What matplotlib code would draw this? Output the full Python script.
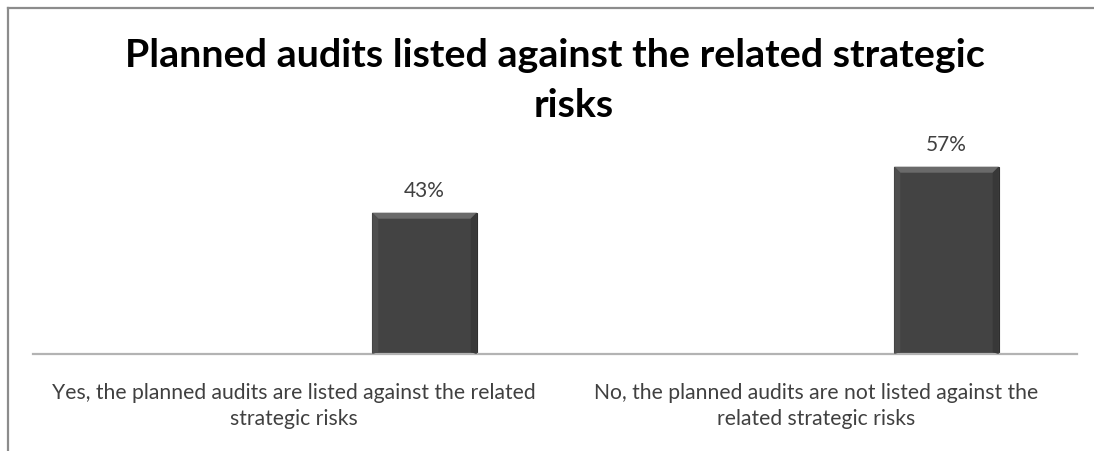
import matplotlib
matplotlib.use("Agg")
import matplotlib.pyplot as plt
from matplotlib.patches import Polygon
from matplotlib.lines import Line2D

# Survey result data
categories = [
    "Yes, the planned audits are listed against the related\nstrategic risks",
    "No, the planned audits are not listed against the\nrelated strategic risks",
]
shares = [0.43, 0.57]
value_labels = ["43%", "57%"]
title_lines = ["Planned audits listed against the related strategic", "risks"]

W, H, DPI = 1094, 452, 100
fig = plt.figure(figsize=(W / DPI, H / DPI), dpi=DPI)
fig.patch.set_facecolor("white")

# outer chart frame (top and left edges visible)
fig.add_artist(Line2D([8 / W, 1.0], [1 - 9 / H, 1 - 9 / H], transform=fig.transFigure,
                      color="#8c8c8c", lw=1.6))
fig.add_artist(Line2D([8 / W, 8 / W], [0.0, 1 - 9 / H], transform=fig.transFigure,
                      color="#8c8c8c", lw=1.6))

ax_left, ax_right, ax_bottom, ax_top = 33, 1077, 355, 125
ax = fig.add_axes([ax_left / W, (H - ax_bottom) / H,
                   (ax_right - ax_left) / W, (ax_bottom - ax_top) / H])

x = list(range(len(categories)))
bar_w = 0.2
offset = 0.25
bar_x = [xi + offset for xi in x]
bars = ax.bar(bar_x, shares, width=bar_w, color="#434343", edgecolor="#2e2e2e",
              linewidth=0.8, zorder=2)

ax.set_xlim(-0.5, len(categories) - 0.5)
ax.set_ylim(0, 0.70)

# bevel highlight along the top and sides of each bar
px_x = (ax_right - ax_left) / len(categories)
px_y = (ax_bottom - ax_top) / 0.70
dx, dy = 6 / px_x, 6 / px_y
for b in bars:
    x0, w, h = b.get_x(), b.get_width(), b.get_height()
    x1 = x0 + w
    ax.add_patch(Polygon([(x0, h), (x1, h), (x1 - dx, h - dy), (x0 + dx, h - dy)],
                         closed=True, facecolor="#6a6a6a", edgecolor="none", zorder=3))
    ax.add_patch(Polygon([(x0, h), (x0 + dx, h - dy), (x0 + dx, dy * 0.3), (x0, 0)],
                         closed=True, facecolor="#4e4e4e", edgecolor="none", zorder=3))
    ax.add_patch(Polygon([(x1, h), (x1 - dx, h - dy), (x1 - dx, dy * 0.3), (x1, 0)],
                         closed=True, facecolor="#383838", edgecolor="none", zorder=3))

for b, lab in zip(bars, value_labels):
    ax.annotate(lab, (b.get_x() + b.get_width() / 2, b.get_height()),
                xytext=(0, 9), textcoords="offset points", ha="center", va="bottom",
                fontsize=15, color="#404040", family="Lato")

for side in ["top", "right", "left"]:
    ax.spines[side].set_visible(False)
ax.spines["bottom"].set_color("#b3b3b3")
ax.spines["bottom"].set_linewidth(1.6)
ax.set_yticks([])
ax.set_xticks(x)
ax.set_xticklabels(categories, fontsize=15.2, color="#404040", family="Lato",
                   linespacing=1.37)
ax.tick_params(axis="x", length=0, pad=20)
ax.set_facecolor("none")

# two-line title, each line placed on its own baseline
title_pos = [(555, 67), (574, 117)]
for line, (tx, ty) in zip(title_lines, title_pos):
    fig.text(tx / W, 1 - ty / H, line, ha="center", va="baseline", fontsize=28.4,
             fontweight="bold", family="Lato", color="black")

fig.savefig("out.png", dpi=DPI)
